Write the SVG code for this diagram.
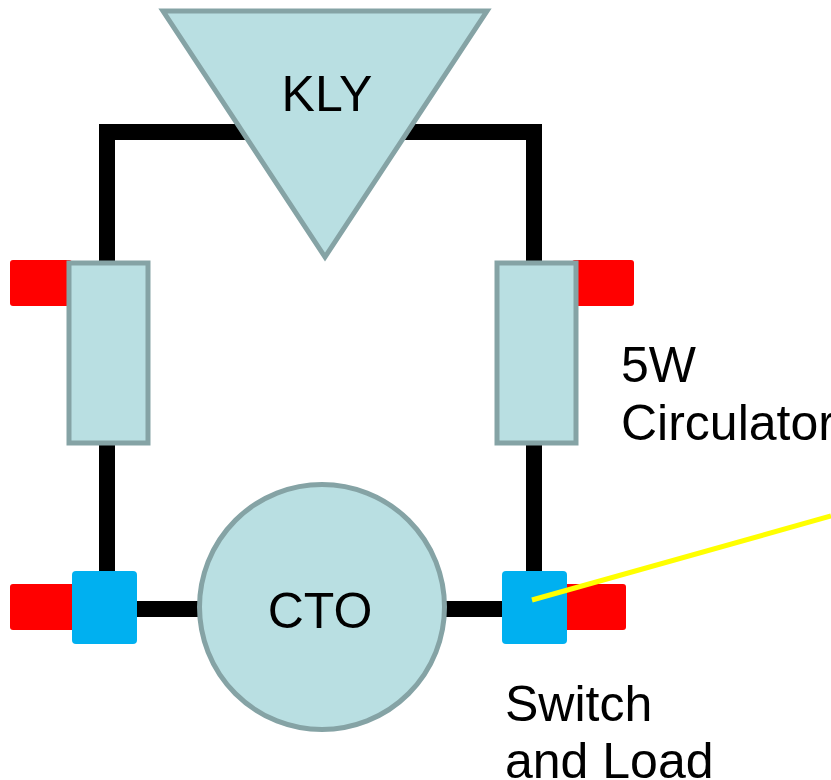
<svg xmlns="http://www.w3.org/2000/svg" width="831" height="780" viewBox="0 0 831 780">
<style>
.body{fill:#b9dfe2;stroke:#85a3a5;stroke-width:5;stroke-linejoin:miter}
.wire{fill:none;stroke:#000;stroke-width:16}
.red{fill:#ff0000}
.blue{fill:#00b0f0}
text{font-family:"Liberation Sans",Arial,sans-serif;font-size:50px;fill:#000}
</style>
<rect width="831" height="780" fill="#fff"/>
<g id="connectors">
<path class="wire" d="M107 265V132H534V265"/>
<path class="wire" d="M107 440V600"/>
<path class="wire" d="M534 440V600"/>
<path class="wire" d="M130 609H200"/>
<path class="wire" d="M445 609H510"/>
</g>
<g id="kly"><path class="body" d="M163 11H487L325 257Z"/><text x="327" y="111" text-anchor="middle">KLY</text></g>
<g id="load-tl"><rect class="red" x="10" y="260" width="62" height="46" rx="3"/></g>
<g id="load-tr"><rect class="red" x="572" y="260" width="62" height="46" rx="3"/></g>
<g id="circulator-left"><rect class="body" x="69" y="263" width="79" height="180"/></g>
<g id="circulator-right"><rect class="body" x="497" y="263" width="79" height="180"/></g>
<g id="load-bl"><rect class="red" x="10" y="584" width="66" height="46" rx="3"/></g>
<g id="load-br"><rect class="red" x="562" y="584" width="64" height="46" rx="3"/></g>
<g id="switch-left"><rect class="blue" x="72" y="571" width="65" height="73" rx="4"/></g>
<g id="switch-right"><rect class="blue" x="502" y="571" width="65" height="73" rx="4"/></g>
<g id="cto"><circle class="body" cx="322" cy="607" r="122.500"/><text x="320" y="628" text-anchor="middle">CTO</text></g>
<g id="pointer"><path d="M532 600L831 516" fill="none" stroke="#ffff00" stroke-width="5"/></g>
<g id="label-circulator"><text x="621" y="382">5W</text><text x="621" y="440">Circulator</text></g>
<g id="label-switch"><text x="505" y="721">Switch</text><text x="505" y="778">and Load</text></g>
</svg>
